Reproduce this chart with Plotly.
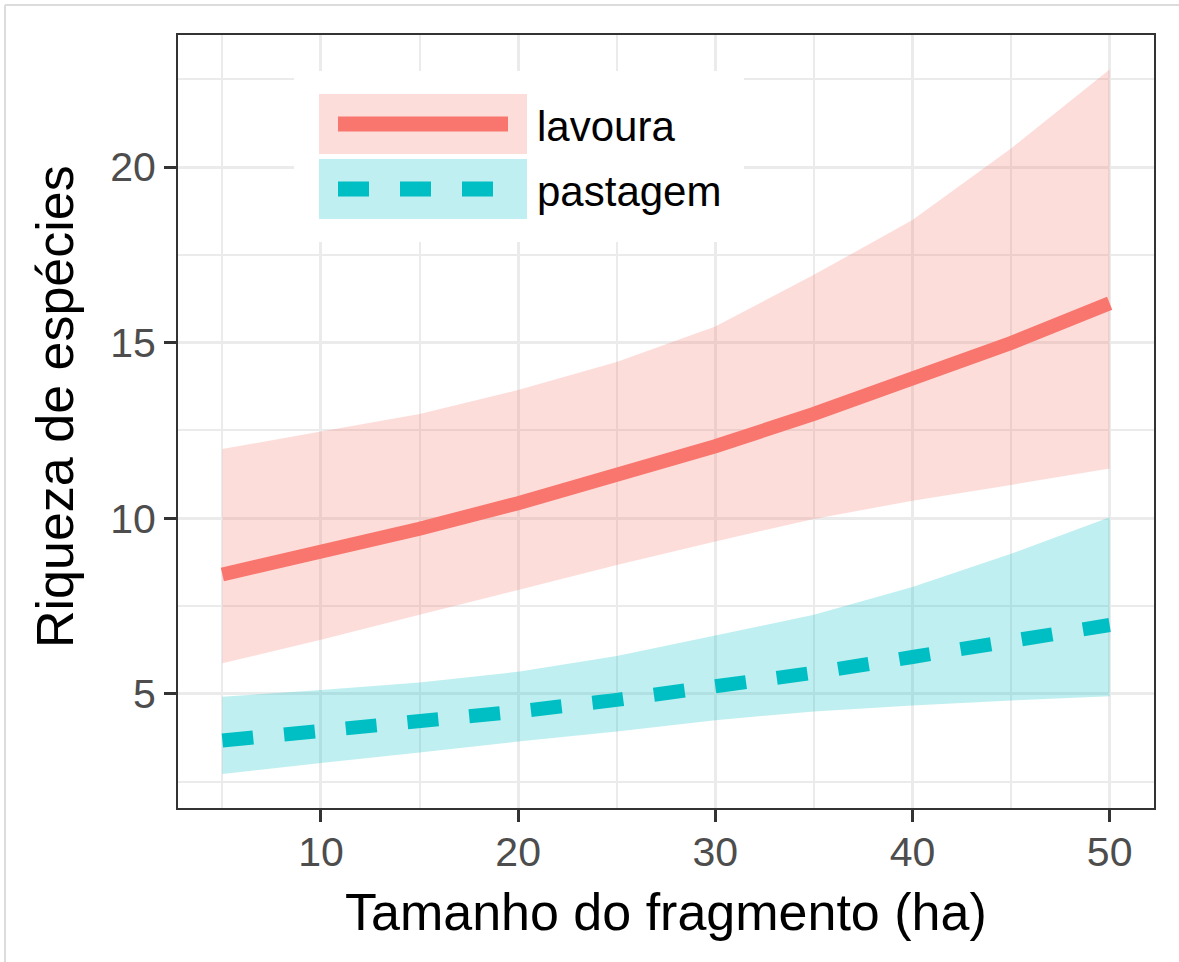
import plotly.graph_objects as go

# ---------------- data ----------------
tamanho = [5, 10, 15, 20, 25, 30, 35, 40, 45, 50]

lavoura_fit = [8.40, 9.03, 9.70, 10.43, 11.21, 12.05, 12.97, 13.94, 14.99, 16.12]
lavoura_lo = [5.87, 6.54, 7.25, 7.96, 8.67, 9.34, 9.98, 10.50, 10.95, 11.42]
lavoura_hi = [11.97, 12.47, 12.97, 13.65, 14.45, 15.46, 16.93, 18.49, 20.53, 22.78]

pastagem_fit = [3.67, 3.93, 4.20, 4.50, 4.83, 5.20, 5.60, 6.05, 6.50, 6.96]
pastagem_lo = [2.72, 3.03, 3.33, 3.64, 3.93, 4.25, 4.50, 4.67, 4.81, 4.93]
pastagem_hi = [4.92, 5.11, 5.32, 5.63, 6.08, 6.66, 7.25, 8.04, 8.99, 10.03]

x_ticks = [10, 20, 30, 40, 50]
x_minor = [5, 15, 25, 35, 45]
y_ticks = [5, 10, 15, 20]
y_minor = [2.5, 7.5, 12.5, 17.5, 22.5]

series_names = ["lavoura", "pastagem"]
x_title = "Tamanho do fragmento (ha)"
y_title = "Riqueza de espécies"

# ---------------- style ----------------
W, H = 1179, 962
ML, MR, MT, MB = 178, 25, 35, 154
PW, PH = W - ML - MR, H - MT - MB

RED = "#F8766D"
TEAL = "#00BFC4"
RED_FILL = "rgba(248,118,109,0.25)"
TEAL_FILL = "rgba(0,191,196,0.25)"
FONT = "Liberation Sans, Arial, sans-serif"
GRID = "#EBEBEB"
LW = 14
DASH = "31px,31px"


def px(xp):
    return (xp - ML) / PW


def py(yp):
    return (H - MB - yp) / PH


fig = go.Figure()

# ribbons (closed polygons: upper edge forward, lower edge backward)
for lo, hi, fc in [(lavoura_lo, lavoura_hi, RED_FILL), (pastagem_lo, pastagem_hi, TEAL_FILL)]:
    fig.add_trace(go.Scatter(x=tamanho + tamanho[::-1], y=hi + lo[::-1], mode="none",
                             fill="toself", fillcolor=fc, showlegend=False, hoverinfo="skip"))

# fitted lines
fig.add_trace(go.Scatter(x=tamanho, y=lavoura_fit, mode="lines", name=series_names[0],
                         line=dict(color=RED, width=LW), showlegend=False))
fig.add_trace(go.Scatter(x=tamanho, y=pastagem_fit, mode="lines", name=series_names[1],
                         line=dict(color=TEAL, width=LW, dash=DASH), showlegend=False))

axis_common = dict(
    showline=True, mirror=True, linecolor="#333333", linewidth=2,
    ticks="outside", ticklen=12, tickwidth=2.5, tickcolor="#333333",
    tickfont=dict(family=FONT, size=41, color="#4D4D4D"),
    showgrid=True, gridcolor=GRID, gridwidth=3, zeroline=False,
)

fig.update_xaxes(range=[2.75, 52.25], tickvals=x_ticks, ticktext=[str(v) for v in x_ticks],
                 ticklabelstandoff=-5,
                 minor=dict(tickvals=x_minor, showgrid=True, gridcolor=GRID, gridwidth=2, ticks=""),
                 **axis_common)
fig.update_yaxes(range=[1.75, 23.76], tickvals=y_ticks, ticktext=[str(v) for v in y_ticks],
                 minor=dict(tickvals=y_minor, showgrid=True, gridcolor=GRID, gridwidth=2, ticks=""),
                 **axis_common)

shapes = []
annotations = []

# outer faint frame (top and left)
shapes.append(dict(type="line", xref="paper", yref="paper", x0=px(5), x1=px(W), y0=py(5), y1=py(5),
                   line=dict(color="#DCDCDC", width=2), layer="above"))
shapes.append(dict(type="line", xref="paper", yref="paper", x0=px(5), x1=px(5), y0=py(5), y1=py(H),
                   line=dict(color="#DCDCDC", width=2), layer="above"))

# legend background
shapes.append(dict(type="rect", xref="paper", yref="paper", x0=px(294), x1=px(744), y0=py(71), y1=py(242),
                   fillcolor="white", line=dict(width=0), layer="above"))
# legend keys
legend_rows = [
    (series_names[0], RED, RED_FILL, None, 94, 154),
    (series_names[1], TEAL, TEAL_FILL, DASH, 159, 219),
]
for name, col, fc, dash, y0, y1 in legend_rows:
    shapes.append(dict(type="rect", xref="paper", yref="paper", x0=px(319), x1=px(527),
                       y0=py(y0), y1=py(y1), fillcolor=fc, line=dict(width=0), layer="above"))
    yc = (y0 + y1) / 2
    ln = dict(color=col, width=15)
    if dash:
        ln["dash"] = dash
    shapes.append(dict(type="line", xref="paper", yref="paper", x0=px(338), x1=px(508),
                       y0=py(yc), y1=py(yc), line=ln, layer="above"))
    annotations.append(dict(xref="paper", yref="paper", x=px(535), y=py(yc + 2), text=name,
                            showarrow=False, xanchor="left", yanchor="middle",
                            font=dict(family=FONT, size=42, color="black")))

# axis titles
annotations.append(dict(xref="paper", yref="paper", x=0.5, y=py(912), text=x_title, showarrow=False,
                        xanchor="center", yanchor="middle", font=dict(family=FONT, size=52, color="black")))
annotations.append(dict(xref="paper", yref="paper", x=px(55), y=py(407), text=y_title, showarrow=False,
                        textangle=-90, xanchor="center", yanchor="middle",
                        font=dict(family=FONT, size=52, color="black")))

fig.update_layout(
    width=W, height=H, autosize=False,
    margin=dict(l=ML, r=MR, t=MT, b=MB, pad=0),
    plot_bgcolor="white", paper_bgcolor="white",
    showlegend=False,
    shapes=shapes, annotations=annotations,
    font=dict(family=FONT),
)

fig.write_html("out.html")
